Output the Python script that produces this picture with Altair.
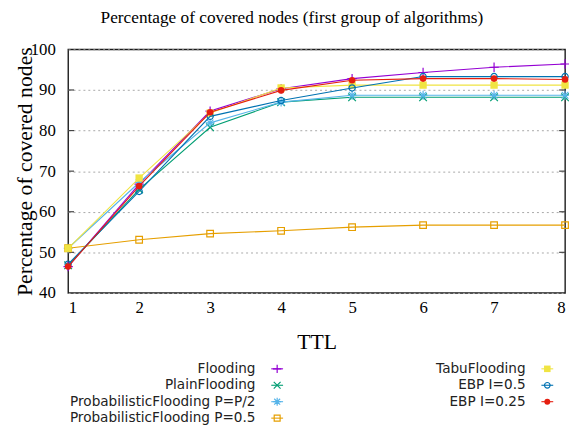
import altair as alt
import pandas as pd

chart_title = ["Percentage of covered nodes (first group of algorithms)"]
ttl = [1, 2, 3, 4, 5, 6, 7, 8]
series_names = [
    "Flooding",
    "PlainFlooding",
    "ProbabilisticFlooding P=P/2",
    "ProbabilisticFlooding P=0.5",
    "TabuFlooding",
    "EBP I=0.5",
    "EBP I=0.25",
]
flooding = [46.5, 66.8, 84.8, 90.3, 92.8, 94.3, 95.6, 96.4]
plain_flooding = [46.8, 65.5, 80.8, 87.0, 88.2, 88.2, 88.2, 88.2]
prob_p2 = [51.0, 67.2, 81.9, 87.0, 88.7, 88.7, 88.7, 88.7]
prob_05 = [51.0, 53.1, 54.6, 55.3, 56.2, 56.7, 56.7, 56.7]
tabu_flooding = [51.0, 68.3, 84.3, 90.5, 91.2, 91.2, 91.2, 91.2]
ebp_05 = [47.1, 65.0, 83.5, 87.4, 90.5, 93.3, 93.3, 93.3]
ebp_025 = [46.5, 66.3, 84.5, 89.9, 92.4, 92.8, 92.8, 92.6]
y_ticks = [40, 50, 60, 70, 80, 90, 100]
inner_ticks = [50, 60, 70, 80, 90]

colors = ["#9400d3", "#009e73", "#56b4e9", "#e69f00", "#f0e442", "#0072b2", "#e51e10"]
PLUS = "M-1,0L1,0M0,-1L0,1"
CROSS = "M-1,-1L1,1M-1,1L1,-1"
STAR = "M-1,0L1,0M0,-1L0,1M-0.75,-0.75L0.75,0.75M-0.75,0.75L0.75,-0.75"
markers = [
    (PLUS, False, 90),
    (CROSS, False, 60),
    (STAR, False, 80),
    ("square", False, 45),
    ("square", True, 55),
    ("circle", False, 40),
    ("circle", True, 45),
]
legend_col = [0, 0, 0, 0, 1, 1, 1]
legend_row = [0, 1, 2, 3, 0, 1, 2]

values = [flooding, plain_flooding, prob_p2, prob_05, tabu_flooding, ebp_05, ebp_025]
rows = []
for name, vals in zip(series_names, values):
    for t, v in zip(ttl, vals):
        rows.append({"ttl": t, "value": v, "series": name})
df = pd.DataFrame(rows)

leg = pd.DataFrame({"series": series_names, "lcol": legend_col, "lrow": legend_row})

SERIF = "Liberation Serif"
x_scale = alt.Scale(domain=[1, 8], nice=False, zero=False)
y_scale = alt.Scale(domain=[40, 100], nice=False, zero=False)
x_axis = alt.Axis(
    values=ttl, format="d", grid=False, ticks=False, domain=False,
    labelFont=SERIF, labelFontSize=17, labelColor="#000", labelPadding=7,
    title="TTL", titleFont=SERIF, titleFontSize=22, titleFontWeight="normal",
    titleColor="#000", titleX=252, titleY=56, titleBaseline="alphabetic",
)
y_axis = alt.Axis(
    values=y_ticks, format="d", grid=True, gridColor="#a8a8a8", gridDash=[2, 3],
    gridWidth=1, ticks=False, domain=False,
    labelFont=SERIF, labelFontSize=17, labelColor="#000", labelPadding=13,
    title="Percentage of covered nodes", titleFont=SERIF, titleFontSize=22,
    titleFontWeight="normal", titleColor="#000", titleX=-37, titleY=123.5,
    titleAngle=270, titleBaseline="alphabetic", titleAlign="center",
)
X = alt.X("ttl:Q", scale=x_scale, axis=x_axis)
Y = alt.Y("value:Q", scale=y_scale, axis=y_axis)

base = alt.Chart(df)
layers = []

ticks_df = pd.DataFrame({"yt": inner_ticks})
for x0, x1 in [(0, 6), (498, 504)]:
    layers.append(
        alt.Chart(ticks_df).mark_rule(color="#444", strokeWidth=1.2).encode(
            x=alt.value(x0), x2=alt.value(x1),
            y=alt.Y("yt:Q", scale=y_scale, axis=y_axis),
        )
    )

for name, col, (shape, filled, size) in zip(series_names, colors, markers):
    sub = base.transform_filter(alt.datum.series == name)
    layers.append(sub.mark_line(color=col, strokeWidth=1.1).encode(x=X, y=Y))
    pt_kwargs = dict(shape=shape, size=size, strokeWidth=1.2, opacity=1)
    if filled:
        pt = sub.mark_point(filled=True, color=col, **pt_kwargs)
    else:
        pt = sub.mark_point(filled=False, stroke=col, fill=None, **pt_kwargs)
    layers.append(pt.encode(x=X, y=Y))

main = alt.layer(*layers)

lx_scale = alt.Scale(domain=[0, 1], range=[190, 464])
ly_scale = alt.Scale(domain=[0, 3], range=[324, 374])
LX = alt.X("lcol:Q", scale=lx_scale, axis=None)
LY = alt.Y("lrow:Q", scale=ly_scale, axis=None)
lbase = alt.Chart(leg)
legend_layers = [
    lbase.mark_text(
        align="right", baseline="middle", font="DejaVu Sans", fontSize=13.8, color="#222"
    ).encode(x=LX, y=LY, text="series:N")
]
for name, col, (shape, filled, size) in zip(series_names, colors, markers):
    lsub = lbase.transform_filter(alt.datum.series == name)
    legend_layers.append(
        lsub.mark_rule(color=col, strokeWidth=1.1, xOffset=16, x2Offset=28).encode(
            x=LX, x2="lcol:Q", y=LY,
        )
    )
    pt_kwargs = dict(shape=shape, size=size * 0.8, strokeWidth=1.2, opacity=1, xOffset=22)
    if filled:
        pt = lsub.mark_point(filled=True, color=col, **pt_kwargs)
    else:
        pt = lsub.mark_point(filled=False, stroke=col, fill=None, **pt_kwargs)
    legend_layers.append(pt.encode(x=LX, y=LY))

title_layer = alt.Chart(pd.DataFrame({"t": chart_title})).mark_text(
    font=SERIF, fontSize=17.5, color="#000", align="center", baseline="alphabetic"
).encode(text="t:N", x=alt.value(227), y=alt.value(-27))
legend_layers.append(title_layer)
legend = alt.layer(*legend_layers)

chart = (
    alt.layer(main, legend)
    .resolve_scale(x="independent", y="independent")
    .properties(
        width=504,
        height=247,
        padding={"left": 61, "top": 39, "right": 4, "bottom": 132},
        autosize=alt.AutoSizeParams(type="none"),
    )
    .configure_view(stroke="#1a1a1a", strokeWidth=1.4)
)

chart.save("out.html", embed_options={"renderer": "svg", "actions": False})
